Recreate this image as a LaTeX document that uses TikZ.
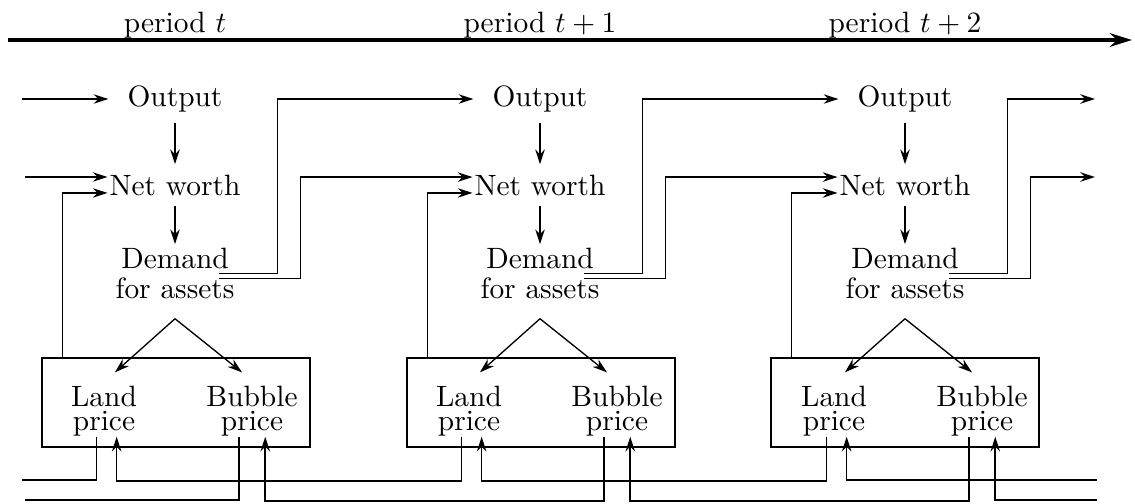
\documentclass[tikz,border=0pt]{standalone}
\usepackage{tikz}
\usetikzlibrary{arrows.meta}

\begin{document}
\begin{tikzpicture}[
  x=0.34pt, y=-0.34pt,
  arr/.style={-{Stealth[length=5pt,width=3.2pt]}, line width=0.55pt},
  link/.style={line width=0.55pt},
  split/.style={-{Stealth[length=5pt,width=3.2pt]}, line width=0.45pt},
  timeline/.style={-{Stealth[length=7.5pt,width=4.6pt]}, line width=1.4pt},
  worth/.style={inner xsep=0.5pt},
  demand/.style={
    align=center, inner sep=1pt,
    font=\fontsize{10}{10.5}\selectfont
  },
  price/.style={
    align=center, inner sep=0pt,
    font=\fontsize{10}{8.2}\selectfont
  },
  market/.style={
    draw, line width=0.65pt, inner sep=0pt,
    minimum width=91.1pt, minimum height=30.3pt
  },
]
\useasboundingbox (0,0) rectangle (1135,503);

% === Time axis ===
\coordinate (tstart) at (8,40);
\coordinate (tend) at (1132,40);
\draw[timeline] (tstart) -- (tend);
\node (per1) at (175,25) {period $t$};
\node (per2) at (540,25) {period $t+1$};
\node (per3) at (905,25) {period $t+2$};

% === Period t ===
\node (out1) at (175,99) {Output};
\node[worth] (nw1) at (175,185) {Net worth};
\node[demand] (dem1) at (175,273.5) {Demand\\for assets};
\node[market] (box1) at (176,402.5) {};
\node[price] (land1) at (104,411) {Land\\price};
\node[price] (bub1) at (252,411) {Bubble\\price};

% === Period t+1 ===
\node (out2) at (540,99) {Output};
\node[worth] (nw2) at (540,185) {Net worth};
\node[demand] (dem2) at (540,273.5) {Demand\\for assets};
\node[market] (box2) at (541,402.5) {};
\node[price] (land2) at (469,411) {Land\\price};
\node[price] (bub2) at (617,411) {Bubble\\price};

% === Period t+2 ===
\node (out3) at (905,99) {Output};
\node[worth] (nw3) at (905,185) {Net worth};
\node[demand] (dem3) at (905,273.5) {Demand\\for assets};
\node[market] (box3) at (905,402.5) {};
\node[price] (land3) at (834,411) {Land\\price};
\node[price] (bub3) at (982,411) {Bubble\\price};

% === Free ends ===
\coordinate (oin) at (22,99);
\coordinate (nin) at (25,177);
\coordinate (oout) at (1095,99);
\coordinate (nout) at (1095,177);
\coordinate (lout) at (22,480);
\coordinate (bout) at (25,500);
\coordinate (lin) at (1097,480);
\coordinate (bin) at (1097,500);

% === Within each period ===
\draw[arr] (out1) -- (nw1);
\draw[arr] (nw1) -- (dem1);
\draw[split] ([yshift=-5.4pt]dem1.south) -- ([xshift=3.7pt,yshift=4.4pt]land1.north);
\draw[split] ([yshift=-5.4pt]dem1.south) -- ([xshift=-3.4pt,yshift=4.4pt]bub1.north);
\draw[arr] ([xshift=7.3pt]box1.north west) |- ([yshift=-2.7pt]nw1.west);

\draw[arr] (out2) -- (nw2);
\draw[arr] (nw2) -- (dem2);
\draw[split] ([yshift=-5.4pt]dem2.south) -- ([xshift=3.7pt,yshift=4.4pt]land2.north);
\draw[split] ([yshift=-5.4pt]dem2.south) -- ([xshift=-3.4pt,yshift=4.4pt]bub2.north);
\draw[arr] ([xshift=7.3pt]box2.north west) |- ([yshift=-2.7pt]nw2.west);

\draw[arr] (out3) -- (nw3);
\draw[arr] (nw3) -- (dem3);
\draw[split] ([yshift=-5.4pt]dem3.south) -- ([xshift=3.7pt,yshift=4.4pt]land3.north);
\draw[split] ([yshift=-5.4pt]dem3.south) -- ([xshift=-3.4pt,yshift=4.4pt]bub3.north);
\draw[arr] ([xshift=7.3pt]box3.north west) |- ([yshift=-2.7pt]nw3.west);

% === Into period t ===
\draw[arr, shorten >=3pt] (oin) -- (out1);
\draw[arr] (nin) -- (nin -| nw1.west);

% === Demand -> next period ===
\coordinate (d1a) at ([xshift=-6.6pt]dem1.east);
\coordinate (d1b) at ([xshift=-6.6pt,yshift=-1.7pt]dem1.east);
\coordinate (d2a) at ([xshift=-6.6pt]dem2.east);
\coordinate (d2b) at ([xshift=-6.6pt,yshift=-1.7pt]dem2.east);
\coordinate (d3a) at ([xshift=-6.6pt]dem3.east);
\coordinate (d3b) at ([xshift=-6.6pt,yshift=-1.7pt]dem3.east);

\draw[arr, shorten >=3pt] (d1a) -- ++(59,0) |- (out2);
\draw[arr] (d1b) -- ++(82,0) |- ([yshift=2.7pt]nw2.west);
\draw[arr, shorten >=3pt] (d2a) -- ++(59,0) |- (out3);
\draw[arr] (d2b) -- ++(82,0) |- ([yshift=2.7pt]nw3.west);
\draw[arr] (d3a) -- ++(59,0) |- (oout);
\draw[arr] (d3b) -- ++(82,0) |- (nout);

% === Prices fed back from the next period ===
\draw[link] ([xshift=-2.5pt]land1.south) |- (lout);
\draw[link] ([xshift=-4.4pt]bub1.south) |- (bout);
\draw[arr] ([xshift=-2.5pt]land2.south) -- ++(0,44) -| ([xshift=4.3pt]land1.south);
\draw[arr] ([xshift=-4.4pt]bub2.south) -- ++(0,64) -| ([xshift=4.5pt]bub1.south);
\draw[arr] ([xshift=-2.5pt]land3.south) -- ++(0,44) -| ([xshift=4.3pt]land2.south);
\draw[arr] ([xshift=-4.4pt]bub3.south) -- ++(0,64) -| ([xshift=4.5pt]bub2.south);
\draw[arr] (lin) -| ([xshift=4.3pt]land3.south);
\draw[arr] (bin) -| ([xshift=4.5pt]bub3.south);

\end{tikzpicture}
\end{document}
